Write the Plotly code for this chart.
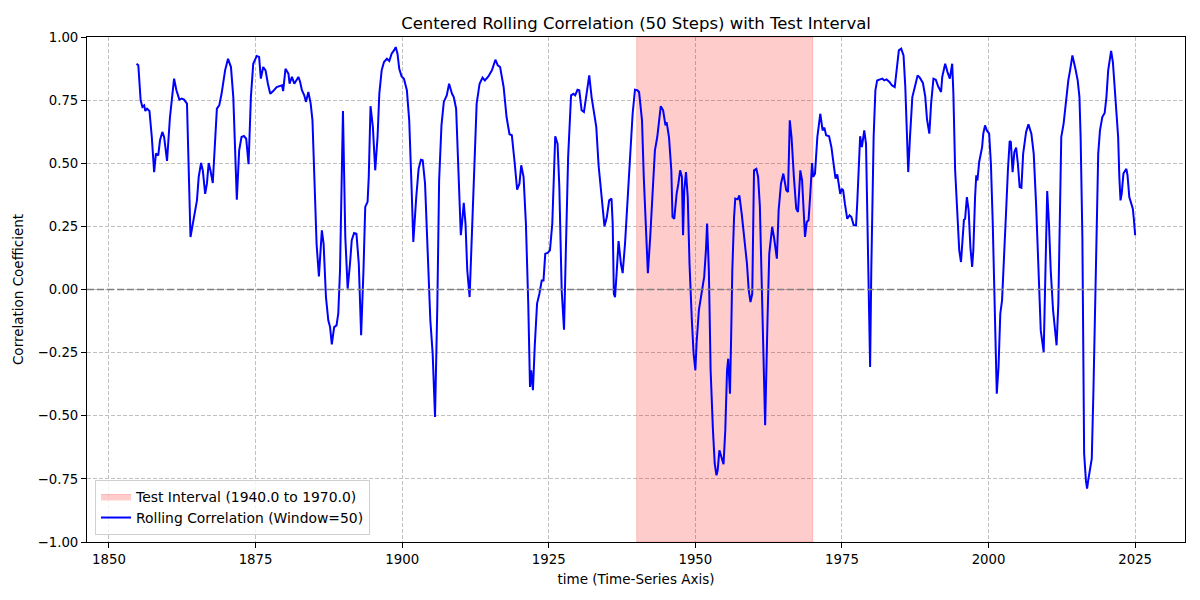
import plotly.graph_objects as go

years = [1854.7, 1855.0, 1855.4, 1855.7, 1856.0, 1856.2, 1856.5, 1856.9, 1857.3, 1857.7,
         1858.0, 1858.4, 1858.7, 1859.1, 1859.4, 1859.9, 1860.4, 1861.1, 1861.5, 1862.0,
         1862.4, 1862.8, 1863.3, 1863.5, 1863.9, 1864.4, 1865.0, 1865.3, 1865.7, 1866.0,
         1866.4, 1866.7, 1867.0, 1867.3, 1867.7, 1868.4, 1868.8, 1869.2, 1869.8, 1870.3,
         1870.8, 1871.2, 1871.5, 1871.8, 1872.2, 1872.6, 1873.0, 1873.4, 1873.8, 1874.2,
         1874.6, 1875.2, 1875.6, 1875.9, 1876.3, 1876.7, 1877.1, 1877.5, 1878.0, 1878.6,
         1879.5, 1879.7, 1880.1, 1880.6, 1880.8, 1881.2, 1881.6, 1882.0, 1882.3, 1882.6,
         1882.9, 1883.3, 1883.6, 1884.0, 1884.4, 1884.7, 1885.0, 1885.4, 1885.8, 1886.0,
         1886.3, 1886.6, 1887.0, 1887.4, 1887.7, 1888.0, 1888.4, 1888.8, 1889.1, 1889.4,
         1889.9, 1890.3, 1890.7, 1891.1, 1891.4, 1891.8, 1892.2, 1892.6, 1893.0, 1893.4,
         1893.7, 1894.1, 1894.3, 1894.6, 1895.0, 1895.4, 1895.8, 1896.1, 1896.5, 1896.9,
         1897.4, 1897.8, 1898.2, 1898.6, 1898.9, 1899.2, 1899.5, 1899.9, 1900.3, 1900.8,
         1901.2, 1901.6, 1901.9, 1902.4, 1902.8, 1903.2, 1903.5, 1903.9, 1904.3, 1904.8,
         1905.2, 1905.6, 1906.0, 1906.3, 1906.7, 1907.1, 1907.6, 1908.0, 1908.5, 1908.8,
         1909.2, 1909.6, 1910.0, 1910.2, 1910.5, 1910.8, 1911.1, 1911.5, 1911.9, 1912.3,
         1912.7, 1913.2, 1913.7, 1914.1, 1914.7, 1915.3, 1915.9, 1916.3, 1916.7, 1917.3,
         1917.8, 1918.3, 1918.7, 1919.2, 1919.6, 1920.0, 1920.3, 1920.7, 1921.1, 1921.5,
         1921.8, 1922.0, 1922.3, 1922.6, 1923.0, 1923.4, 1923.8, 1924.1, 1924.4, 1924.8,
         1925.2, 1925.6, 1926.1, 1926.5, 1926.8, 1927.2, 1927.6, 1927.9, 1928.3, 1928.8,
         1929.2, 1929.5, 1929.9, 1930.2, 1930.6, 1931.0, 1931.5, 1931.9, 1932.3, 1933.1,
         1933.5, 1934.2, 1934.5, 1934.9, 1935.3, 1935.7, 1935.9, 1936.1, 1936.3, 1936.6,
         1936.9, 1937.3, 1937.6, 1938.0, 1938.4, 1938.9, 1939.3, 1939.7, 1940.1, 1940.4,
         1940.9, 1941.2, 1941.6, 1941.9, 1942.3, 1942.7, 1943.1, 1943.5, 1943.9, 1944.1,
         1944.5, 1944.9, 1945.1, 1945.5, 1945.9, 1946.1, 1946.4, 1946.8, 1947.1, 1947.4,
         1947.7, 1947.9, 1948.1, 1948.4, 1948.7, 1949.0, 1949.4, 1949.7, 1950.0, 1950.2,
         1950.6, 1951.1, 1951.5, 1951.8, 1952.0, 1952.3, 1952.6, 1953.0, 1953.3, 1953.6,
         1953.8, 1954.1, 1954.4, 1954.8, 1955.1, 1955.4, 1955.6, 1955.9, 1956.1, 1956.3,
         1956.6, 1956.8, 1957.2, 1957.5, 1957.9, 1958.3, 1958.8, 1959.1, 1959.4, 1959.7,
         1960.0, 1960.4, 1960.7, 1961.0, 1961.4, 1961.7, 1961.9, 1962.3, 1962.6, 1963.1,
         1963.4, 1963.9, 1964.2, 1964.6, 1965.0, 1965.5, 1965.8, 1966.1, 1966.4, 1966.8,
         1967.2, 1967.5, 1967.9, 1968.2, 1968.5, 1968.7, 1969.0, 1969.3, 1969.6, 1969.9,
         1970.1, 1970.4, 1970.8, 1971.3, 1971.7, 1972.0, 1972.3, 1972.8, 1973.2, 1973.5,
         1973.9, 1974.2, 1974.7, 1975.0, 1975.2, 1975.5, 1975.9, 1976.3, 1976.6, 1977.0,
         1977.4, 1977.6, 1977.9, 1978.1, 1978.4, 1978.6, 1978.8, 1979.1, 1979.3, 1979.6,
         1979.8, 1980.0, 1980.4, 1980.7, 1981.0, 1981.5, 1981.9, 1982.2, 1982.6, 1983.1,
         1983.5, 1984.0, 1984.4, 1984.7, 1985.1, 1985.5, 1985.8, 1986.1, 1986.3, 1986.6,
         1987.0, 1987.5, 1987.9, 1988.3, 1988.8, 1989.2, 1989.5, 1989.9, 1990.2, 1990.6,
         1991.0, 1991.4, 1991.9, 1992.1, 1992.6, 1993.0, 1993.4, 1993.8, 1994.0, 1994.3,
         1994.6, 1995.0, 1995.3, 1995.6, 1995.8, 1996.0, 1996.3, 1996.6, 1996.9, 1997.2,
         1997.4, 1997.7, 1997.9, 1998.1, 1998.4, 1998.9, 1999.1, 1999.4, 1999.7, 2000.1,
         2000.4, 2000.7, 2001.1, 2001.4, 2001.7, 2002.0, 2002.3, 2002.6, 2003.0, 2003.3,
         2003.6, 2003.8, 2004.1, 2004.4, 2004.7, 2005.0, 2005.3, 2005.6, 2005.9, 2006.4,
         2006.8, 2007.3, 2007.7, 2008.1, 2008.5, 2008.9, 2009.4, 2009.6, 2009.9, 2010.0,
         2010.3, 2010.6, 2011.0, 2011.4, 2011.6, 2011.9, 2012.1, 2012.4, 2012.8, 2013.2,
         2013.6, 2013.9, 2014.3, 2014.8, 2015.2, 2015.5, 2015.7, 2016.0, 2016.2, 2016.3,
         2016.6, 2016.8, 2017.0, 2017.3, 2017.6, 2017.9, 2018.2, 2018.5, 2018.7, 2019.0,
         2019.4, 2019.8, 2020.1, 2020.4, 2020.9, 2021.2, 2021.6, 2021.9, 2022.1, 2022.3,
         2022.5, 2022.7, 2023.0, 2023.5, 2023.7, 2024.0, 2024.3, 2024.6, 2024.8, 2025.0]

corr = [0.894, 0.888, 0.749, 0.723, 0.729, 0.707, 0.716, 0.707, 0.604, 0.465,
        0.538, 0.531, 0.591, 0.624, 0.604, 0.509, 0.683, 0.835, 0.789, 0.752,
        0.756, 0.752, 0.736, 0.538, 0.208, 0.274, 0.353, 0.446, 0.501, 0.472,
        0.379, 0.419, 0.501, 0.472, 0.422, 0.716, 0.729, 0.775, 0.868, 0.914,
        0.881, 0.762, 0.564, 0.356, 0.551, 0.604, 0.608, 0.597, 0.496, 0.762,
        0.894, 0.925, 0.921, 0.835, 0.881, 0.868, 0.815, 0.775, 0.786, 0.802,
        0.809, 0.786, 0.874, 0.855, 0.815, 0.842, 0.815, 0.828, 0.842, 0.822,
        0.789, 0.769, 0.743, 0.782, 0.736, 0.670, 0.446, 0.181, 0.052, 0.142,
        0.234, 0.181, -0.030, -0.122, -0.149, -0.217, -0.149, -0.142, -0.096, 0.076,
        0.707, 0.208, 0.003, 0.102, 0.195, 0.224, 0.221, 0.102, -0.181, 0.076,
        0.327, 0.347, 0.446, 0.726, 0.644, 0.472, 0.604, 0.775, 0.868, 0.901,
        0.914, 0.905, 0.934, 0.947, 0.960, 0.934, 0.874, 0.844, 0.835, 0.789,
        0.670, 0.406, 0.188, 0.366, 0.478, 0.514, 0.512, 0.419, 0.142, -0.122,
        -0.254, -0.505, -0.056, 0.432, 0.650, 0.743, 0.769, 0.815, 0.775, 0.762,
        0.716, 0.472, 0.215, 0.261, 0.343, 0.261, 0.076, -0.030, 0.208, 0.498,
        0.736, 0.815, 0.839, 0.828, 0.844, 0.868, 0.910, 0.888, 0.881, 0.802,
        0.683, 0.615, 0.611, 0.498, 0.395, 0.419, 0.492, 0.446, 0.261, -0.056,
        -0.386, -0.320, -0.399, -0.228, -0.056, -0.017, 0.036, 0.036, 0.142, 0.145,
        0.155, 0.261, 0.607, 0.577, 0.406, -0.003, -0.159, 0.142, 0.525, 0.769,
        0.775, 0.769, 0.791, 0.789, 0.710, 0.703, 0.789, 0.848, 0.762, 0.644,
        0.490, 0.314, 0.250, 0.287, 0.353, 0.360, 0.261, -0.017, -0.030, 0.076,
        0.192, 0.102, 0.065, 0.181, 0.340, 0.538, 0.696, 0.791, 0.789, 0.782,
        0.670, 0.446, 0.234, 0.065, 0.208, 0.406, 0.551, 0.604, 0.696, 0.726,
        0.710, 0.650, 0.663, 0.604, 0.472, 0.287, 0.280, 0.379, 0.419, 0.472,
        0.446, 0.215, 0.393, 0.465, 0.366, 0.102, -0.122, -0.254, -0.320, -0.215,
        -0.082, -0.017, 0.050, 0.155, 0.261, 0.076, -0.320, -0.558, -0.690, -0.736,
        -0.716, -0.637, -0.663, -0.692, -0.558, -0.320, -0.274, -0.413, -0.188, 0.076,
        0.287, 0.360, 0.357, 0.373, 0.300, 0.208, 0.102, -0.003, -0.050, -0.017,
        0.472, 0.478, 0.446, 0.330, -0.056, -0.320, -0.538, -0.122, 0.142, 0.248,
        0.208, 0.122, 0.314, 0.419, 0.459, 0.393, 0.386, 0.670, 0.604, 0.446,
        0.320, 0.307, 0.472, 0.432, 0.274, 0.208, 0.267, 0.274, 0.379, 0.501,
        0.446, 0.459, 0.604, 0.696, 0.630, 0.641, 0.611, 0.607, 0.564, 0.512,
        0.439, 0.456, 0.379, 0.399, 0.393, 0.340, 0.280, 0.294, 0.287, 0.254,
        0.254, 0.340, 0.538, 0.607, 0.564, 0.591, 0.630, 0.577, 0.340, 0.010,
        -0.307, 0.076, 0.604, 0.789, 0.828, 0.832, 0.835, 0.828, 0.832, 0.822,
        0.809, 0.802, 0.894, 0.947, 0.954, 0.927, 0.802, 0.564, 0.465, 0.604,
        0.762, 0.809, 0.848, 0.838, 0.818, 0.765, 0.675, 0.617, 0.736, 0.835,
        0.831, 0.805, 0.782, 0.842, 0.894, 0.861, 0.835, 0.894, 0.775, 0.472,
        0.314, 0.155, 0.109, 0.221, 0.276, 0.280, 0.366, 0.314, 0.168, 0.089,
        0.155, 0.366, 0.452, 0.432, 0.505, 0.564, 0.617, 0.650, 0.630, 0.617,
        0.498, 0.274, -0.135, -0.413, -0.307, -0.096, -0.043, 0.142, 0.314, 0.472,
        0.588, 0.584, 0.465, 0.545, 0.562, 0.498, 0.406, 0.403, 0.538, 0.624,
        0.654, 0.617, 0.538, 0.340, 0.076, -0.162, -0.248, -0.056, 0.274, 0.390,
        0.261, 0.076, -0.082, -0.162, -0.221, -0.056, 0.274, 0.604, 0.657, 0.749,
        0.828, 0.868, 0.927, 0.875, 0.828, 0.762, 0.604, 0.208, -0.386, -0.650,
        -0.756, -0.789, -0.755, -0.703, -0.670, -0.386, 0.010, 0.274, 0.538, 0.630,
        0.683, 0.699, 0.762, 0.868, 0.945, 0.901, 0.762, 0.670, 0.604, 0.446,
        0.353, 0.379, 0.459, 0.478, 0.452, 0.366, 0.347, 0.320, 0.274, 0.215]

interval_start = 1940.0
interval_end = 1970.0
window = 50

x_ticks = [1850, 1875, 1900, 1925, 1950, 1975, 2000, 2025]
y_ticks = [-1.0, -0.75, -0.5, -0.25, 0.0, 0.25, 0.5, 0.75, 1.0]
y_min, y_max = -1.0, 1.0

FONT = "DejaVu Sans"

fig = go.Figure()

fig.add_trace(go.Scatter(
    x=[interval_start, interval_end, interval_end, interval_start, interval_start],
    y=[y_min, y_min, y_max, y_max, y_min],
    fill="toself",
    fillcolor="rgba(255,0,0,0.2)",
    line=dict(color="rgba(255,0,0,0.2)", width=1),
    mode="lines",
    name=f"Test Interval ({interval_start:.1f} to {interval_end:.1f})",
    hoverinfo="skip",
))

fig.add_trace(go.Scatter(
    x=years, y=corr, mode="lines",
    line=dict(color="#0000ff", width=2),
    name=f"Rolling Correlation (Window={window})",
))

fig.add_shape(type="line", xref="paper", yref="y", x0=0, x1=1, y0=0, y1=0,
              line=dict(color="#808080", width=1.6, dash="7px,3px"), layer="above")

axis_common = dict(
    showline=True, linecolor="black", linewidth=1, mirror=True,
    ticks="outside", ticklen=5, tickwidth=1, tickcolor="black",
    showgrid=True, gridcolor="#c0c0c0", griddash="4px,2px", gridwidth=1,
    zeroline=False, automargin=False,
    tickfont=dict(family=FONT, size=13.3, color="black"),
)

fig.update_layout(
    width=1200, height=600,
    margin=dict(l=79, r=23, t=29, b=66),
    paper_bgcolor="white", plot_bgcolor="white",
    font=dict(family=FONT, size=13, color="black"),
    title=dict(text="Centered Rolling Correlation (50 Steps) with Test Interval",
               x=0.5, xref="paper", xanchor="center", y=0.975, yanchor="middle",
               font=dict(family=FONT, size=16.5, color="black")),
    xaxis=dict(range=[1846.25, 2033.5], tickvals=x_ticks,
               ticktext=[str(t) for t in x_ticks],
               title=dict(text="time (Time-Series Axis)", standoff=8,
                          font=dict(family=FONT, size=13.5)),
               **axis_common),
    yaxis=dict(range=[y_min, y_max], tickvals=y_ticks, tickformat=".2f",
               title=dict(text="Correlation Coefficient", standoff=10,
                          font=dict(family=FONT, size=13.5)),
               **axis_common),
    legend=dict(x=0.0073, y=0.014, xanchor="left", yanchor="bottom",
                bgcolor="rgba(255,255,255,0.8)", bordercolor="#d0d0d0", borderwidth=1,
                font=dict(family=FONT, size=13.9), tracegroupgap=2),
    showlegend=True,
)

fig.write_html("out.html")
